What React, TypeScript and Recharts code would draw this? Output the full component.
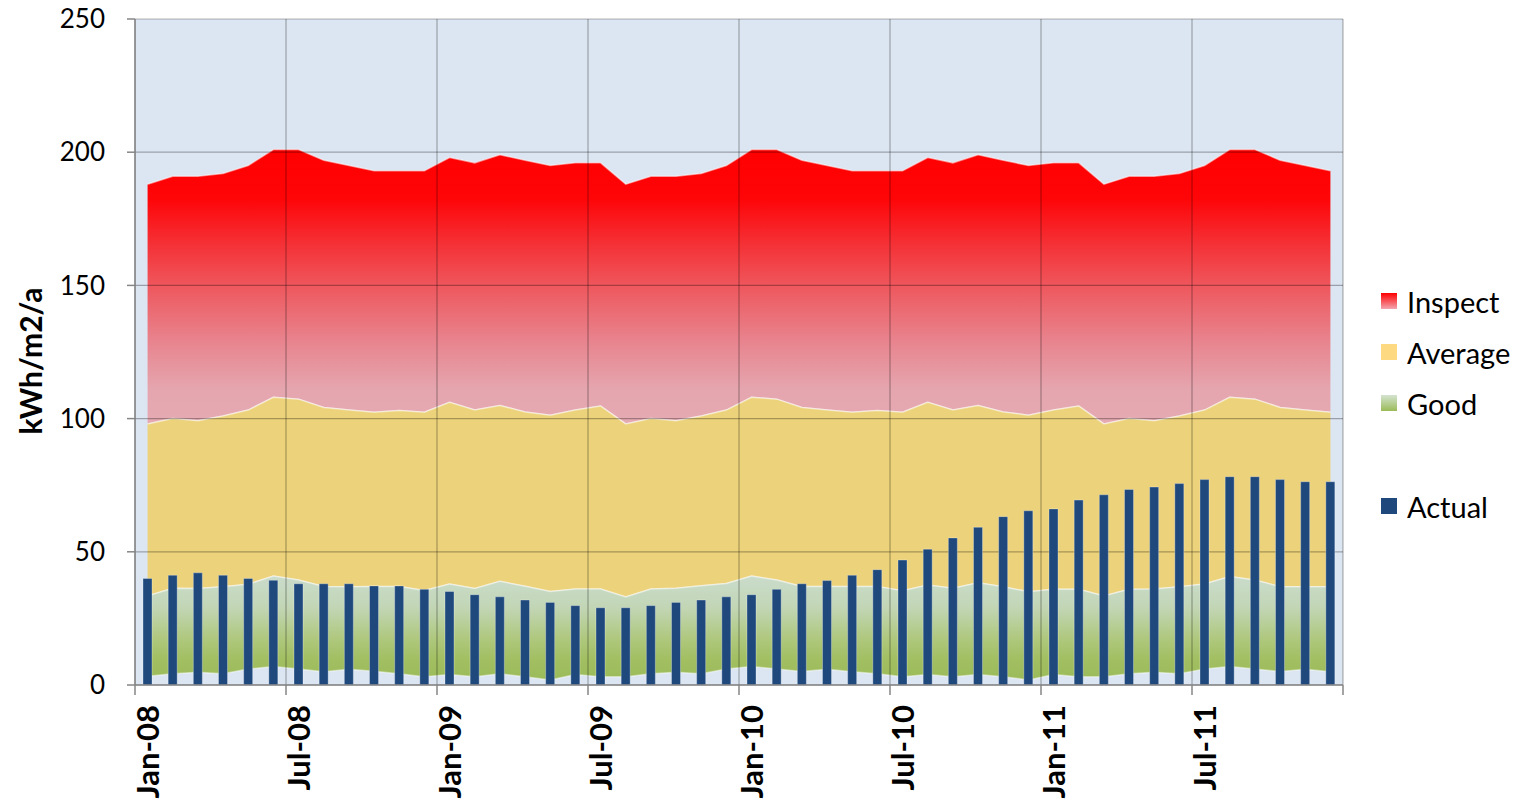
import React from "react";
import {
  ComposedChart,
  Area,
  Bar,
  XAxis,
  YAxis,
  CartesianGrid,
  Label,
} from "recharts";

const months = [
  "Jan-08", "Feb-08", "Mar-08", "Apr-08", "May-08", "Jun-08", "Jul-08", "Aug-08", "Sep-08", "Oct-08", "Nov-08", "Dec-08",
  "Jan-09", "Feb-09", "Mar-09", "Apr-09", "May-09", "Jun-09", "Jul-09", "Aug-09", "Sep-09", "Oct-09", "Nov-09", "Dec-09",
  "Jan-10", "Feb-10", "Mar-10", "Apr-10", "May-10", "Jun-10", "Jul-10", "Aug-10", "Sep-10", "Oct-10", "Nov-10", "Dec-10",
  "Jan-11", "Feb-11", "Mar-11", "Apr-11", "May-11", "Jun-11", "Jul-11", "Aug-11", "Sep-11", "Oct-11", "Nov-11", "Dec-11",
];

// upper edge of the red "Inspect" band
const inspectTop = [
  188, 191, 191, 192, 195, 201, 201, 197, 195, 193, 193, 193, 198, 196, 199, 197, 195, 196, 196,
  188, 191, 191, 192, 195, 201, 201, 197, 195, 193, 193, 193, 198, 196, 199, 197, 195, 196, 196,
  188, 191, 191, 192, 195, 201, 201, 197, 195, 193,
];

// upper edge of the yellow "Average" band
const averageTop = [
  98, 100, 99.2, 101, 103.2, 108, 107.3, 104.2, 103.2, 102.4, 103, 102.4, 106.1, 103.2, 104.9, 102.5, 101.3, 103.2, 104.7,
  98, 100, 99.2, 101, 103.2, 108, 107.3, 104.2, 103.2, 102.4, 103, 102.4, 106.1, 103.2, 104.9, 102.5, 101.3, 103.2, 104.7,
  98, 100, 99.2, 101, 103.2, 108, 107.3, 104.2, 103.2, 102.4,
];

// upper and lower edge of the green "Good" band
const goodTop = [
  33.4, 36.3, 36.2, 36.9, 37.8, 40.9, 39.4, 37, 36.9, 37, 37, 35.5, 37.9, 36.2, 38.9,
  37.1, 35.1, 36, 36, 33, 36, 36.3, 37.3, 38.1, 40.9, 39.4, 37, 37, 37, 37, 35.4,
  37.5, 36.3, 38.4, 36.9, 35, 35.9, 35.9, 33.4, 35.9, 36, 36.9, 37.9, 40.7, 39.4, 36.9, 36.9, 36.9,
];

const goodBase = [
  3.3, 4.2, 4.8, 4.2, 6, 6.9, 6, 5, 5.9, 5.2, 4.2, 3.1, 3.9, 3.1, 4.2,
  3.1, 1.9, 3.9, 3.1, 3.1, 4.2, 4.8, 4.2, 6, 6.9, 6, 5.1, 5.9, 5, 4.2, 3.1,
  3.9, 3.1, 3.9, 3.1, 1.9, 3.9, 3.1, 3.1, 4.2, 4.8, 4.2, 6, 6.9, 6, 5.1, 5.9, 5,
];

const actual = [
  40, 41.2, 42.1, 41.2, 40, 39.3, 38, 38, 38, 37.2, 37.2, 35.9, 35.1, 33.9, 33.1,
  31.9, 31, 29.8, 29, 29, 29.8, 31, 31.9, 33.1, 33.9, 35.9, 38, 39.2, 41.2, 43.3, 46.9,
  51, 55.2, 59.2, 63.2, 65.4, 66.1, 69.4, 71.4, 73.4, 74.3, 75.6, 77.1, 78.2, 78.2, 77.1, 76.3, 76.3,
];

// ticks sit on the month boundaries (between categories)
const xTicks = [-0.5, 5.5, 11.5, 17.5, 23.5, 29.5, 35.5, 41.5, 47.5];
const xTickLabels = ["Jan-08", "Jul-08", "Jan-09", "Jul-09", "Jan-10", "Jul-10", "Jan-11", "Jul-11", ""];
const yTicks = [0, 50, 100, 150, 200, 250];

const data = months.map((month, i) => ({
  idx: i,
  month,
  inspect: [averageTop[i], inspectTop[i]],
  average: [goodTop[i], averageTop[i]],
  good: [goodBase[i], goodTop[i]],
  actual: actual[i],
}));

const FONT = "Lato, 'Open Sans', sans-serif";

function XTick({ x, y, payload }: any) {
  const i = xTicks.indexOf(payload.value);
  const label = i >= 0 ? xTickLabels[i] : "";
  const tx = x + 12;
  return (
    <text
      x={tx}
      y={y}
      transform={`rotate(-90 ${tx} ${y})`}
      textAnchor="end"
      dominantBaseline="central"
      fontFamily={FONT}
      fontWeight={700}
      fontSize={31}
      fill="#000"
    >
      {label}
    </text>
  );
}

const legendItems = [
  { name: "Inspect", fill: "url(#legInspect)", gap: 0 },
  { name: "Average", fill: "#FDD982", gap: 0 },
  { name: "Good", fill: "url(#legGood)", gap: 0 },
  { name: "Actual", fill: "#1F497D", gap: 52 },
];

function LegendBox() {
  return (
    <svg width={150} height={260} style={{ position: "absolute", left: 1378, top: 285, overflow: "visible" }}>
      <defs>
        <linearGradient id="legInspect" x1="0" y1="0" x2="0" y2="1">
          <stop offset="0%" stopColor="#FF0000" />
          <stop offset="100%" stopColor="#F2A6B0" />
        </linearGradient>
        <linearGradient id="legGood" x1="0" y1="0" x2="0" y2="1">
          <stop offset="0%" stopColor="#D4E3D0" />
          <stop offset="100%" stopColor="#9BBB59" />
        </linearGradient>
      </defs>
      {legendItems.map((it, i) => {
        const cy = 16 + i * 51 + it.gap;
        return (
          <g key={it.name}>
            <rect x={3} y={cy - 8} width={16} height={16} fill={it.fill} />
            <text x={29} y={cy} dominantBaseline="central" fontFamily={FONT} fontSize={29} fill="#000">
              {it.name}
            </text>
          </g>
        );
      })}
    </svg>
  );
}

export default function App() {
  return (
    <div style={{ position: "absolute", left: 0, top: 0, width: 1520, height: 806, background: "#fff" }}>
      <ComposedChart
        width={1520}
        height={806}
        data={data}
        margin={{ top: 19, right: 177, left: 0, bottom: 0 }}
      >
        <defs>
          <linearGradient id="gradInspect" x1="0" y1="0" x2="0" y2="1">
            <stop offset="0%" stopColor="#FF0000" />
            <stop offset="18%" stopColor="#FE0508" />
            <stop offset="33%" stopColor="#F52D32" />
            <stop offset="51%" stopColor="#EE5A60" />
            <stop offset="69%" stopColor="#E8828C" />
            <stop offset="87%" stopColor="#E5A5AE" />
            <stop offset="100%" stopColor="#E5AAB2" />
          </linearGradient>
          <linearGradient id="gradGood" x1="0" y1="0" x2="0" y2="1">
            <stop offset="0%" stopColor="#CADCCB" />
            <stop offset="30%" stopColor="#C2D6B6" />
            <stop offset="60%" stopColor="#AFC87E" />
            <stop offset="80%" stopColor="#A2BF62" />
            <stop offset="100%" stopColor="#9BBB59" />
          </linearGradient>
        </defs>
        <CartesianGrid fill="#DCE6F2" horizontal={false} vertical={false} />
        <XAxis
          dataKey="idx"
          type="number"
          domain={[-0.5, 47.5]}
          ticks={xTicks}
          interval={0}
          height={121}
          tickSize={10}
          tickMargin={10}
          tick={<XTick />}
          axisLine={{ stroke: "#868686", strokeWidth: 1.5 }}
          tickLine={{ stroke: "#868686", strokeWidth: 1.5 }}
        />
        <YAxis
          type="number"
          domain={[0, 250]}
          ticks={yTicks}
          width={135}
          tickSize={8}
          tickMargin={22}
          tick={{ fill: "#000", fontSize: 26, fontFamily: FONT }}
          axisLine={{ stroke: "#868686", strokeWidth: 1.5 }}
          tickLine={{ stroke: "#868686", strokeWidth: 1.5 }}
        >
          <Label
            content={() => (
              <text
                x={30}
                y={361}
                transform="rotate(-90 30 361)"
                textAnchor="middle"
                dominantBaseline="central"
                fontFamily={FONT}
                fontWeight={700}
                fontSize={30}
                fill="#000"
              >
                kWh/m2/a
              </text>
            )}
          />
        </YAxis>
        <Area
          dataKey="inspect"
          type="linear"
          fill="url(#gradInspect)"
          fillOpacity={1}
          stroke="#FFFFFF"
          strokeOpacity={0.5}
          strokeWidth={1.5}
          isAnimationActive={false}
        />
        <Area
          dataKey="average"
          type="linear"
          fill="#ECD27A"
          fillOpacity={1}
          stroke="#FFFFFF"
          strokeOpacity={0.45}
          strokeWidth={1.5}
          isAnimationActive={false}
        />
        <Area
          dataKey="good"
          type="linear"
          fill="url(#gradGood)"
          fillOpacity={1}
          stroke="#FFFFFF"
          strokeOpacity={0.45}
          strokeWidth={1.5}
          isAnimationActive={false}
        />
        <CartesianGrid
          stroke="#000"
          strokeOpacity={0.3}
          strokeWidth={1.2}
          fill="none"
          zIndex={200}
        />
        <Bar
          dataKey="actual"
          barSize={9}
          fill="#1F497D"
          stroke="#FFFFFF"
          strokeOpacity={0.3}
          strokeWidth={1}
          isAnimationActive={false}
        />
      </ComposedChart>
      <LegendBox />
    </div>
  );
}
